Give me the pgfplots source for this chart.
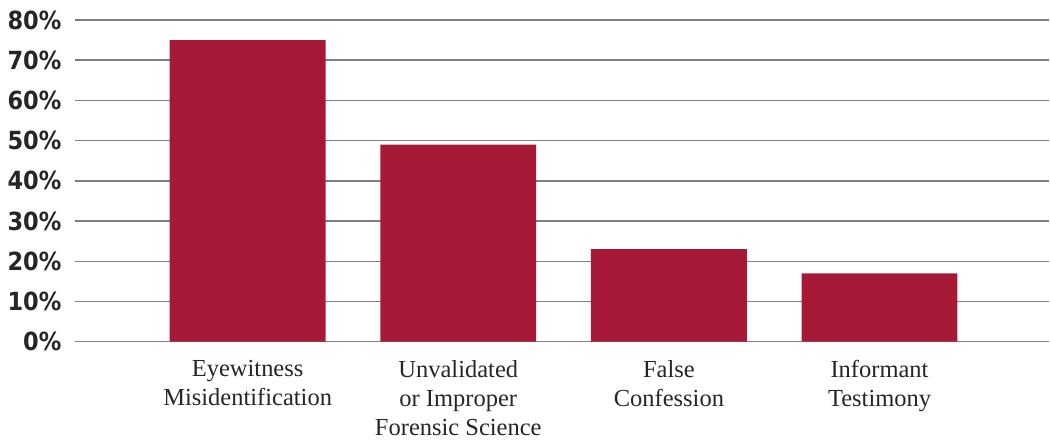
\documentclass[border=0pt]{standalone}
\usepackage{pgfplots}
\pgfplotsset{compat=1.18}
\usepackage{fontspec}
\setmainfont{Liberation Serif}
\newfontfamily\tickfont{DejaVu Sans Condensed}
\definecolor{barred}{HTML}{A71A37}
\definecolor{gridgray}{HTML}{808080}
\begin{document}
\begin{tikzpicture}
\begin{axis}[
  scale only axis,
  width=975pt, height=322pt,
  xmin=-0.82, xmax=3.806,
  ymin=0, ymax=80,
  axis line style={draw=none},
  tick style={draw=none},
  ymajorgrids,
  major grid style={gridgray, line width=1.4pt},
  ytick={0,10,...,80},
  yticklabels={0\%,10\%,20\%,30\%,40\%,50\%,60\%,70\%,80\%},
  yticklabel style={font=\tickfont\bfseries\fontsize{25}{28}\selectfont, text=black!85, xshift=-10pt},
  xtick={0,1,2,3},
  xticklabels={Eyewitness\\Misidentification, Unvalidated\\or Improper\\Forensic Science, False\\Confession, Informant\\Testimony},
  xticklabel style={align=center, font=\fontsize{24.5}{29}\selectfont, text=black!85, yshift=-15pt},
  clip=false,
]
\addplot[ybar, bar width=156pt, fill=barred, draw=none] coordinates {(0,75) (1,49) (2,23) (3,17)};
\path[use as bounding box] (rel axis cs:-0.0769,-0.304) rectangle (rel axis cs:1,1.062);
\end{axis}
\end{tikzpicture}
\end{document}
